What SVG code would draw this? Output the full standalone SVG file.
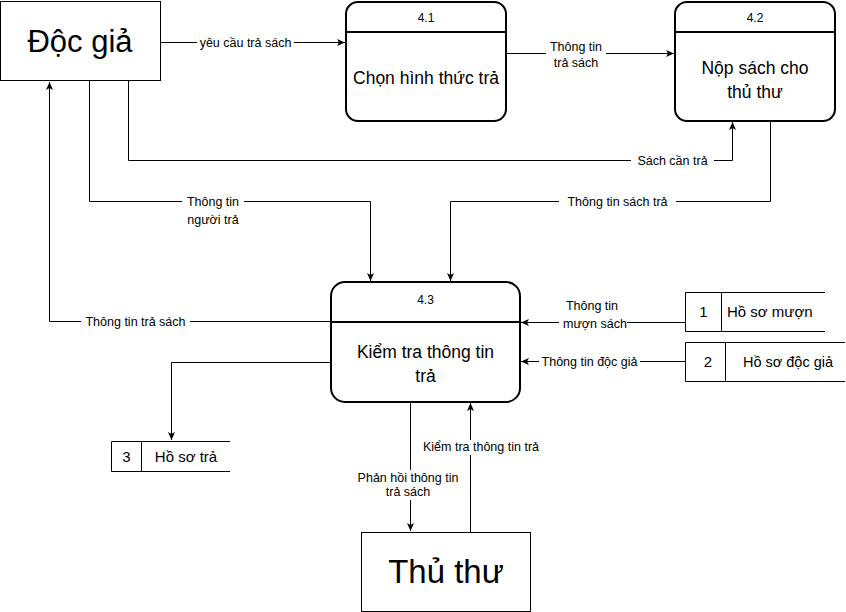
<svg xmlns="http://www.w3.org/2000/svg" width="846" height="612" viewBox="0 0 846 612">
<style>
text{font-family:"Liberation Sans",Arial,sans-serif;fill:#000;text-anchor:middle}
.lbl{font-size:12.5px}
.ext{fill:#fff;stroke:#000;stroke-width:1}
.proc{fill:#fff;stroke:#000;stroke-width:2}
.st{fill:none;stroke:#000;stroke-width:1}
.edge{fill:none;stroke:#000;stroke-width:1}
.bg{fill:#fff}
.pt{font-size:17.5px}
.num{font-size:12px}
.ds{font-size:15px}
</style>
<defs>
<marker id="arr" markerUnits="userSpaceOnUse" markerWidth="10" markerHeight="10" refX="8" refY="4" orient="auto">
<path d="M0,0.5 L8,4 L0,7.5 L2,4 z" fill="#000"/>
</marker>
</defs>
<rect width="846" height="612" fill="#fff"/>

<g id="edges">
<path class="edge" d="M160.5,42.5 H345" marker-end="url(#arr)"/>
<path class="edge" d="M506,53.5 H674" marker-end="url(#arr)"/>
<path class="edge" d="M128.5,81 V160.5 H732.5 V122" marker-end="url(#arr)"/>
<path class="edge" d="M770.5,122 V201.5 H450.5 V281" marker-end="url(#arr)"/>
<path class="edge" d="M89.5,81 V201.5 H370.5 V281" marker-end="url(#arr)"/>
<path class="edge" d="M331,321.5 H49.5 V82" marker-end="url(#arr)"/>
<path class="edge" d="M331,362.5 H171.5 V440" marker-end="url(#arr)"/>
<path class="edge" d="M685,322.5 H521" marker-end="url(#arr)"/>
<path class="edge" d="M685,361.5 H521" marker-end="url(#arr)"/>
<path class="edge" d="M410.5,403 V531" marker-end="url(#arr)"/>
<path class="edge" d="M470.5,532 V403" marker-end="url(#arr)"/>

<rect class="bg" x="197" y="35" width="97" height="15"/>
<text class="lbl" x="245.5" y="46.5">yêu cầu trả sách</text>
<rect class="bg" x="546" y="40" width="60" height="30"/>
<text class="lbl" x="576" y="51">Thông tin</text>
<text class="lbl" x="576" y="67">trả sách</text>
<rect class="bg" x="631" y="153" width="83" height="15"/>
<text class="lbl" x="672.5" y="164.5">Sách cần trả</text>
<rect class="bg" x="559" y="194" width="117" height="15"/>
<text class="lbl" x="617.5" y="206">Thông tin sách trả</text>
<rect class="bg" x="182" y="194" width="62" height="32"/>
<text class="lbl" x="213" y="205.5">Thông tin</text>
<text class="lbl" x="213" y="223.5">người trả</text>
<rect class="bg" x="81" y="314" width="109" height="15"/>
<text class="lbl" x="135.5" y="326">Thông tin trả sách</text>
<rect class="bg" x="559" y="299" width="68" height="32"/>
<text class="lbl" x="592" y="310">Thông tin</text>
<text class="lbl" x="595" y="328">mượn sách</text>
<rect class="bg" x="539" y="354" width="101" height="15"/>
<text class="lbl" x="589.5" y="365.5">Thông tin độc giả</text>
<rect class="bg" x="352" y="470" width="112" height="30"/>
<text class="lbl" x="408" y="482">Phản hồi thông tin</text>
<text class="lbl" x="408" y="496">trả sách</text>
<rect class="bg" x="418" y="440" width="126" height="15"/>
<text class="lbl" x="481" y="451">Kiểm tra thông tin trả</text>
</g>

<g id="doc-gia">
<rect class="ext" x="0.5" y="1.5" width="160" height="79"/>
<text x="80" y="52" style="font-size:31px">Độc giả</text>
</g>

<g id="p41">
<rect class="proc" x="346" y="2" width="160" height="119" rx="12"/>
<line class="proc" x1="346" y1="32" x2="506" y2="32"/>
<text class="num" x="426" y="21.5">4.1</text>
<text class="pt" x="426" y="84">Chọn hình thức trả</text>
</g>

<g id="p42">
<rect class="proc" x="675" y="2" width="160" height="119" rx="12"/>
<line class="proc" x1="675" y1="32" x2="835" y2="32"/>
<text class="num" x="755" y="21.5">4.2</text>
<text class="pt" x="755" y="74">Nộp sách cho</text>
<text class="pt" x="755" y="98">thủ thư</text>
</g>

<g id="p43">
<rect class="proc" x="331" y="282" width="189" height="120" rx="14"/>
<line class="proc" x1="331" y1="322" x2="520" y2="322"/>
<text class="num" x="425.5" y="304">4.3</text>
<text class="pt" x="425.5" y="358">Kiểm tra thông tin</text>
<text class="pt" x="425.5" y="382">trả</text>
</g>

<g id="ds1">
<rect x="685.5" y="292.5" width="140" height="39" fill="#fff"/>
<path class="st" d="M825,292.5 H685.5 V331.5 H825 M721.5,292.5 V331.5"/>
<text class="ds" x="703.5" y="317">1</text>
<text class="ds" x="727" y="317" style="text-anchor:start">Hồ sơ mượn</text>
</g>

<g id="ds2">
<rect x="685.5" y="342.5" width="160" height="39" fill="#fff"/>
<path class="st" d="M845,342.5 H685.5 V381.5 H845 M725.5,342.5 V381.5"/>
<text class="ds" x="708" y="367">2</text>
<text class="ds" x="788" y="367" style="font-size:14.5px">Hồ sơ độc giả</text>
</g>

<g id="ds3">
<rect x="111.5" y="441.5" width="119" height="30" fill="#fff"/>
<path class="st" d="M230,441.5 H111.5 V471.5 H230 M141.5,441.5 V471.5"/>
<text class="ds" x="126.5" y="461.5">3</text>
<text class="ds" x="186" y="461.5">Hồ sơ trả</text>
</g>

<g id="thu-thu">
<rect class="ext" x="361.5" y="532.5" width="169" height="79"/>
<text x="446" y="583" style="font-size:33px">Thủ thư</text>
</g>
</svg>
